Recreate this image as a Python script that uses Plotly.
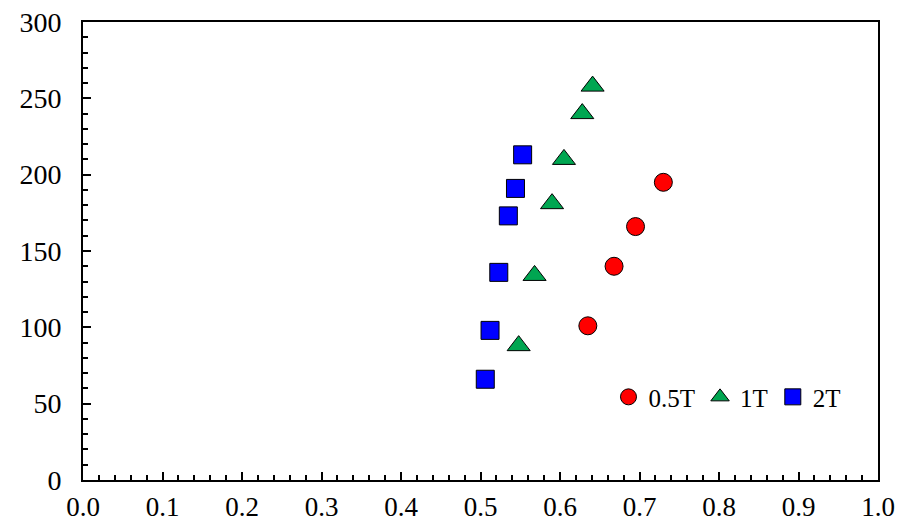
import plotly.graph_objects as go

# Data
x_05T = [0.635, 0.668, 0.695, 0.730]
y_05T = [101, 140, 166, 195]
x_1T = [0.548, 0.568, 0.590, 0.605, 0.628, 0.641]
y_1T = [88, 134, 181, 210, 240, 258]
x_2T = [0.506, 0.512, 0.523, 0.535, 0.544, 0.553]
y_2T = [66, 98, 136, 173, 191, 213]

series = [
    ("0.5T", x_05T, y_05T, "circle", "#ff0000", 18),
    ("1T", x_1T, y_1T, "triangle-up", "#00a651", 20),
    ("2T", x_2T, y_2T, "square", "#0000ff", 18),
]

FONT = "Liberation Serif, Times New Roman, serif"

fig = go.Figure()
for name, xs, ys, sym, col, sz in series:
    fig.add_trace(go.Scatter(
        x=xs, y=ys, mode="markers", name=name,
        marker=dict(symbol=sym, color=col, size=sz,
                    line=dict(color="black", width=1)),
    ))

axis_common = dict(
    showgrid=False, zeroline=False, automargin=False,
    showline=True, linecolor="black", linewidth=2, mirror=True,
    ticks="inside", ticklen=8, tickwidth=2, tickcolor="black",
)

fig.update_xaxes(
    range=[0, 1], tickmode="linear", tick0=0, dtick=0.1, tickformat=".1f",
    minor=dict(ticks="inside", ticklen=5, tickwidth=2, tickcolor="black", dtick=0.02),
    ticklabelstandoff=2,
    tickfont=dict(family=FONT, size=27, color="black"),
    **axis_common,
)
fig.update_yaxes(
    range=[0, 300], tickmode="linear", tick0=0, dtick=50,
    minor=dict(ticks="inside", ticklen=5, tickwidth=2, tickcolor="black", dtick=10),
    ticklabelstandoff=14,
    tickfont=dict(family=FONT, size=28, color="black"),
    **axis_common,
)

fig.update_layout(
    width=897, height=526,
    margin=dict(l=83, r=19, t=22, b=46),
    plot_bgcolor="white", paper_bgcolor="white",
    font=dict(family=FONT, size=22, color="black"),
    showlegend=True,
    legend=dict(
        orientation="h", x=0.661, y=0.181, xanchor="left", yanchor="middle",
        bgcolor="rgba(0,0,0,0)", itemwidth=30, tracegroupgap=0,
        font=dict(family=FONT, size=25, color="black"),
        itemsizing="trace",
    ),
)

fig.write_html("out.html")
